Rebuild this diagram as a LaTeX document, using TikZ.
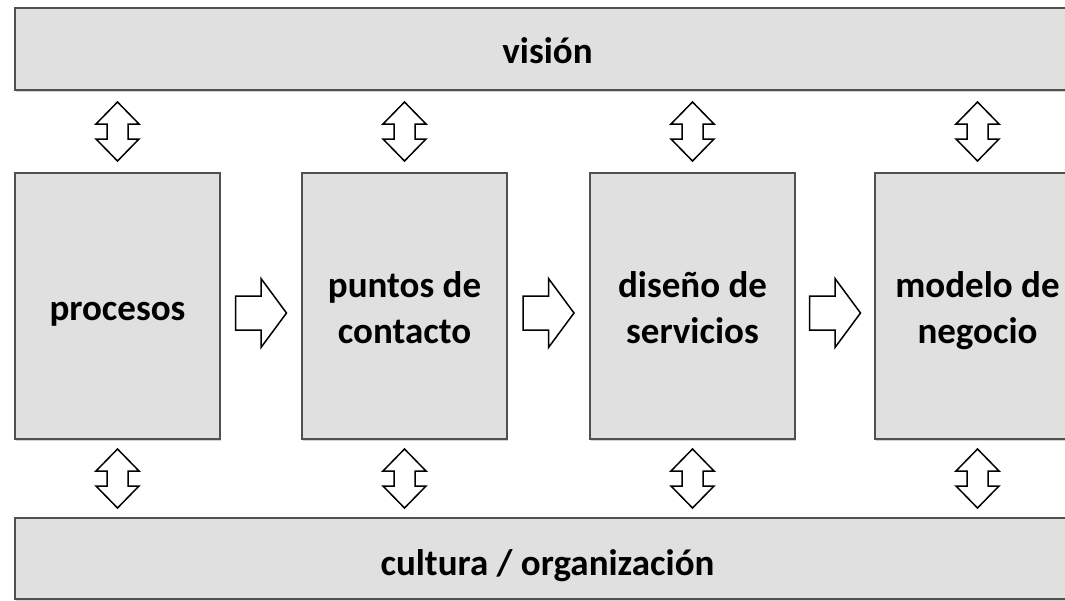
\documentclass[tikz,border=0pt]{standalone}
\usepackage{fontspec}
\setmainfont{Carlito}
\usetikzlibrary{calc,shadows}
\definecolor{boxfill}{RGB}{224,224,224}
\definecolor{boxline}{RGB}{80,80,80}
\begin{document}
\begin{tikzpicture}[x=1pt,y=-1pt,
  panel/.style={draw=boxline, line width=2.4pt, fill=boxfill, inner sep=0pt,
    drop shadow={shadow xshift=1pt, shadow yshift=-1.5pt, opacity=0.35}},
  lbl/.style={font=\fontsize{37}{46}\selectfont\bfseries, align=center, inner sep=0pt},
  blockarrow/.style={draw=black, line width=1.5pt, fill=white, line join=miter},
  pics/vdouble/.style={code={
    \path[blockarrow] (0,-29.5) -- (21.5,-7.5) -- (10.5,-7.5) -- (10.5,7.5) -- (21.5,7.5)
      -- (0,29.5) -- (-21.5,7.5) -- (-10.5,7.5) -- (-10.5,-7.5) -- (-21.5,-7.5) -- cycle;}},
  pics/rarrow/.style={code={
    \path[blockarrow] (-25.5,-17) -- (0,-17) -- (0,-34.5) -- (25.5,0) -- (0,34.5)
      -- (0,17) -- (-25.5,17) -- cycle;}}
]
\useasboundingbox (0,0) rectangle (1065,600);
\clip (0,0) rectangle (1065,600);

% bars
\node[panel, minimum width=1065pt, minimum height=82pt] (top) at (547.5,49) {};
\node[panel, minimum width=1065pt, minimum height=81pt] (bot) at (547.5,558.5) {};

% boxes
\node[panel, minimum width=205pt, minimum height=266pt] (b1) at (117.5,306) {};
\node[panel, minimum width=205pt, minimum height=266pt] (b2) at (404.5,306) {};
\node[panel, minimum width=205pt, minimum height=266pt] (b3) at (692.5,306) {};
\node[panel, minimum width=205pt, minimum height=266pt] (b4) at (977.5,306) {};

% labels
\node[lbl, anchor=base] (tv) at ([yshift=-14pt]top.center) {visión};
\node[lbl, anchor=base] (tb) at ([yshift=-16.5pt]bot.center) {cultura / organización};
\node[lbl, anchor=base] (t1) at ([yshift=-14pt]b1.center) {procesos};
\node[lbl, anchor=base] (t2) at ([yshift=-37pt]b2.center) {puntos de\\contacto};
\node[lbl, anchor=base] (t3) at ([yshift=-37pt]b3.center) {diseño de\\servicios};
\node[lbl, anchor=base] (t4) at ([yshift=-37pt]b4.center) {modelo de\\negocio};

% horizontal block arrows
\pic at ($(b1.east)!0.5!(b2.west)+(0,7)$) {rarrow};
\pic at ($(b2.east)!0.5!(b3.west)+(0,7)$) {rarrow};
\pic at ($(b3.east)!0.5!(b4.west)+(0,7)$) {rarrow};

% vertical double block arrows
\foreach \b in {b1,b2,b3,b4}{
  \pic at ($(top.south -| \b.north)!0.5!(\b.north)$) {vdouble};
  \pic at ($(\b.south)!0.5!(bot.north -| \b.south)$) {vdouble};
}
\end{tikzpicture}
\end{document}
